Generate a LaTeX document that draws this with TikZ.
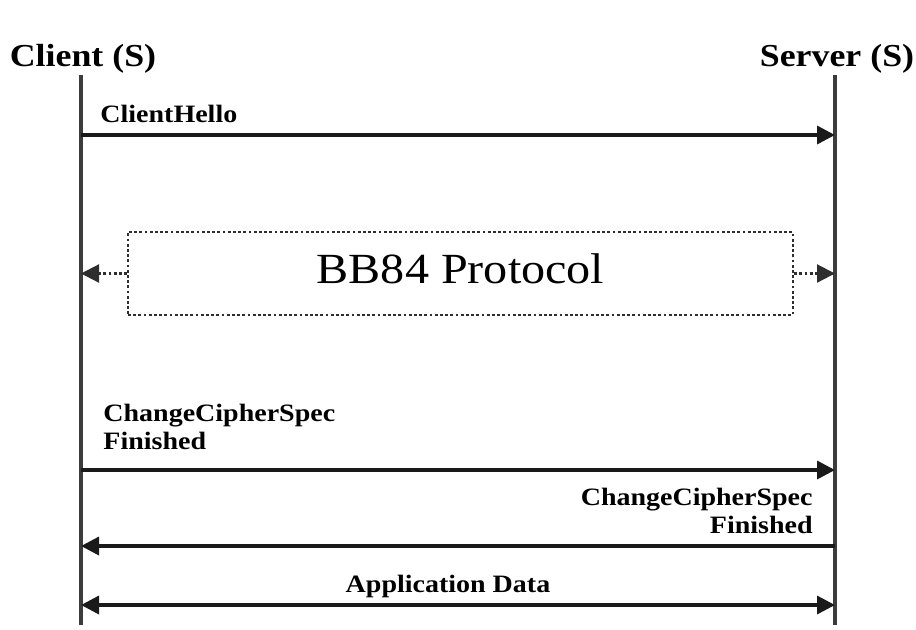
\documentclass[tikz,border=0pt]{standalone}
\usepackage{fontspec}
\setmainfont{Liberation Serif}[FakeStretch=1.12]
\usepackage{xcolor}
\usetikzlibrary{positioning,arrows.meta,calc}
\definecolor{cLife}{HTML}{3c3c3c}
\definecolor{cMsg} {HTML}{1a1a1a}
\definecolor{cDot} {HTML}{2e2e2e}
\tikzset{
  >={Triangle[length=9pt,width=9pt]},
  shead/.style={font=\fontsize{16}{19}\selectfont\bfseries,inner sep=0pt},
  smsg/.style ={font=\fontsize{12.5}{13.75}\selectfont\bfseries,inner sep=0pt,
                align=left},
  sbb/.style  ={draw=cDot,line width=1.1pt,dash pattern=on 1.4pt off 1.2pt,
                font=\fontsize{21.5}{24}\selectfont,inner sep=0pt,text depth=5pt},
  slife/.style={line width=1.7pt,cLife},
  sar/.style  ={->,line width=1.7pt,cMsg},
  sdot/.style ={->,line width=1.1pt,cDot,dash pattern=on 1.4pt off 1.2pt},
}
\begin{document}
\begin{tikzpicture}[x=0.5pt,y=-0.5pt]
  \useasboundingbox (0,0) rectangle (916,629);
  % the two parties
  \node[shead,anchor=base] (client) at (83,66) {Client (S)};
  \node[shead,anchor=base] (server) at (837,66) {Server (S)};
  \coordinate (ctop) at (81,75);
  \coordinate (cbot) at (81,625);
  \coordinate (stop) at (835,75);
  \coordinate (sbot) at (835,625);
  \draw[slife] (ctop)--(cbot);
  \draw[slife] (stop)--(sbot);
  % message rows
  \coordinate (c1) at (81,135);  \coordinate (s1) at (835,135);
  \coordinate (c3) at (81,470);  \coordinate (s3) at (835,470);
  \coordinate (c4) at (81,546);  \coordinate (s4) at (835,546);
  \coordinate (c5) at (81,605);  \coordinate (s5) at (835,605);
  \node[smsg,anchor=base west] (hello) at (100,122) {ClientHello};
  \draw[sar] (c1)--(s1);
  % quantum key exchange
  \node[sbb,minimum width=332.5pt,minimum height=41.5pt] (bb) at (460.5,273.5)
    {BB84 Protocol};
  \draw[sdot] (bb.west)--(bb.west-|ctop);
  \draw[sdot] (bb.east)--(bb.east-|stop);
  % finish
  \node[smsg,anchor=base west] (ccsc) at (103,449) {ChangeCipherSpec\\Finished};
  \draw[sar] (c3)--(s3);
  \node[smsg,align=right,anchor=base east] (ccss) at (813,533)
    {ChangeCipherSpec\\Finished};
  \draw[sar] (s4)--(c4);
  \node[smsg,anchor=base] (app) at (448,592) {Application Data};
  \draw[sar,<->] (c5)--(s5);
\end{tikzpicture}
\end{document}
